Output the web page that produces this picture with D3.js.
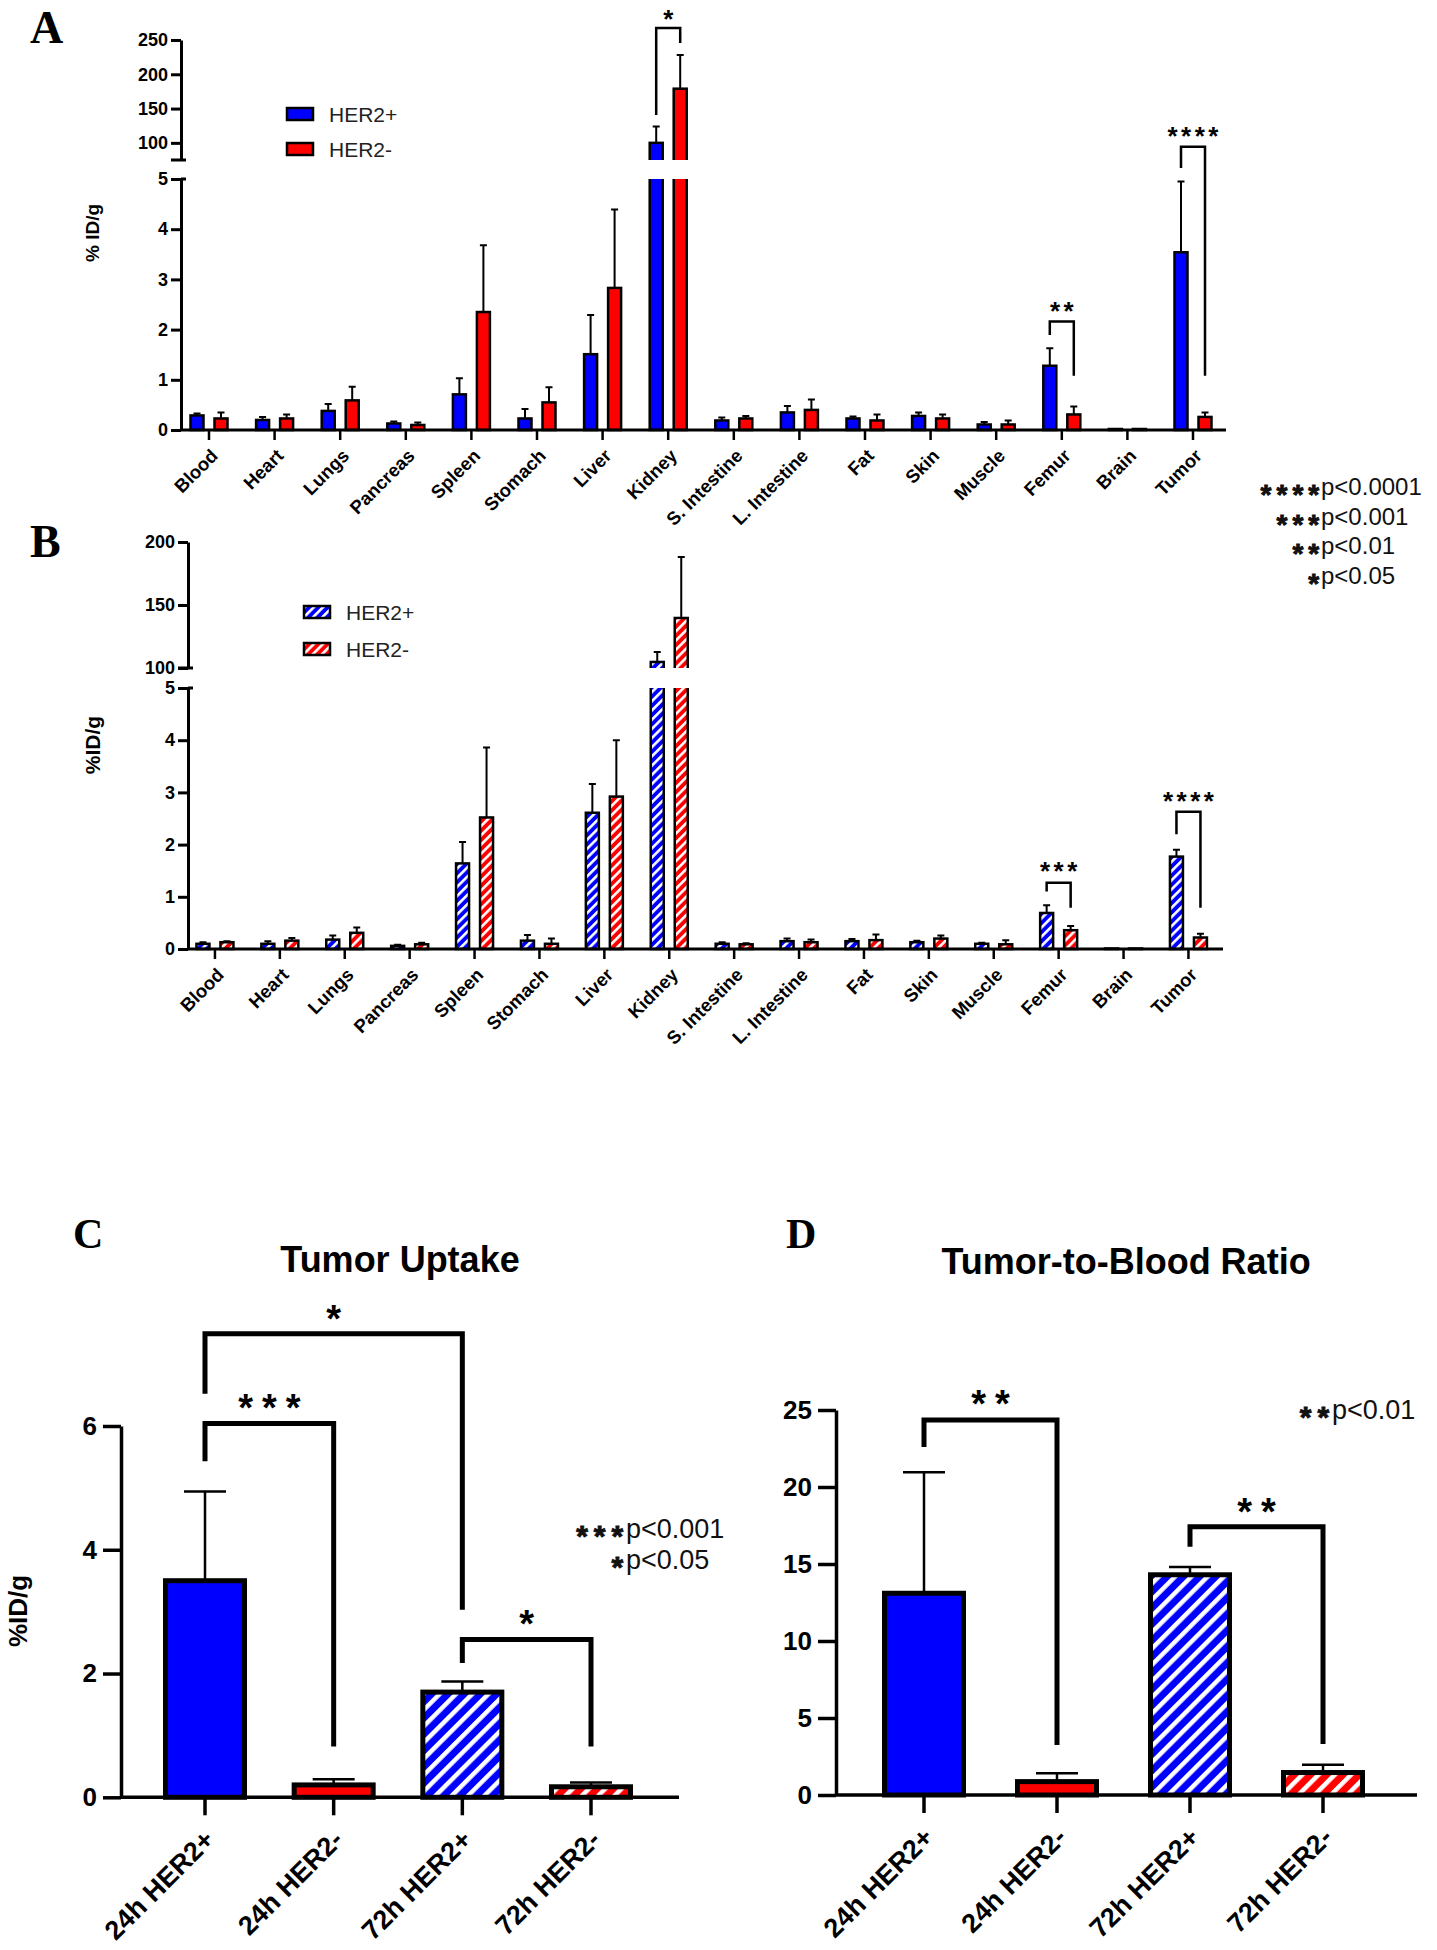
<!DOCTYPE html>
<html><head><meta charset="utf-8">
<script src="https://cdn.jsdelivr.net/npm/d3@7"></script>
<style>body{margin:0;background:#fff}</style>
</head><body>
<script>
// ---------------- DATA ----------------
const organs = ["Blood","Heart","Lungs","Pancreas","Spleen","Stomach","Liver","Kidney","S. Intestine","L. Intestine","Fat","Skin","Muscle","Femur","Brain","Tumor"];
// Panel A (24 h) %ID/g, mean and SD
const aHer2Pos   = [0.29,0.20,0.38,0.13,0.71,0.23,1.51,100,0.19,0.35,0.23,0.28,0.11,1.28,0.02,3.54];
const aHer2PosSd = [0.04,0.06,0.14,0.04,0.32,0.19,0.78,24,0.06,0.13,0.04,0.07,0.05,0.35,0,1.41];
const aHer2Neg   = [0.23,0.23,0.59,0.10,2.35,0.55,2.83,179,0.23,0.40,0.19,0.23,0.11,0.31,0.02,0.26];
const aHer2NegSd = [0.12,0.08,0.27,0.05,1.33,0.30,1.56,49,0.05,0.21,0.12,0.08,0.08,0.16,0,0.09];
// Panel B (72 h)
const bHer2Pos   = [0.10,0.10,0.18,0.06,1.64,0.16,2.61,104.8,0.10,0.15,0.15,0.13,0.10,0.69,0.01,1.77];
const bHer2PosSd = [0.03,0.05,0.08,0.02,0.41,0.11,0.55,7.9,0.03,0.05,0.04,0.03,0.02,0.15,0,0.13];
const bHer2Neg   = [0.13,0.16,0.31,0.09,2.52,0.10,2.92,139.7,0.09,0.13,0.17,0.20,0.09,0.36,0.01,0.22];
const bHer2NegSd = [0.02,0.05,0.10,0.03,1.34,0.10,1.08,48.3,0.02,0.05,0.11,0.06,0.08,0.08,0,0.07];
// Panel C / D
const groups = ["24h HER2+","24h HER2-","72h HER2+","72h HER2-"];
const tumorUptake   = [3.50,0.20,1.70,0.17];
const tumorUptakeSd = [1.44,0.09,0.17,0.07];
const tumorBlood    = [13.1,0.87,14.3,1.46];
const tumorBloodSd  = [7.85,0.54,0.50,0.50];
// tick labels
const lowerTicks = [0,1,2,3,4,5];
const aUpperTicks = [100,150,200,250];
const bUpperTicks = [100,150,200];
const cTicks = [0,2,4,6];
const dTicks = [0,5,10,15,20,25];
// significance annotations (data units)
const aSig = [
  {cat:"Kidney", seg:"U", top:267.5, left:140.8, right:245.6, star:289, label:"*"},
  {cat:"Femur",  seg:"L", top:2.16,  left:1.89,  right:1.08,  star:2.49, label:"**"},
  {cat:"Tumor",  seg:"L", top:5.64,  left:5.22,  right:1.08,  star:5.98, label:"****"}
];
const bSig = [
  {cat:"Femur", seg:"L", top:1.27, left:1.10, right:0.79, star:1.61, label:"***"},
  {cat:"Tumor", seg:"L", top:2.63, left:2.20, right:0.79, star:2.95, label:"****"}
];
const cSig = [
  {from:0,to:1,top:6.04,left:5.43,right:0.82,star:6.44,label:"***"},
  {from:0,to:2,top:7.49,left:6.52,right:3.03,star:7.88,label:"*"},
  {from:2,to:3,top:2.55,left:2.17,right:0.82,star:2.94,label:"*"}
];
const dSig = [
  {from:0,to:1,top:24.35,left:22.6,right:3.25,star:25.97,label:"**"},
  {from:2,to:3,top:17.42,left:16.12,right:3.31,star:18.96,label:"**"}
];
const pLegendAB = [["****","p<0.0001"],["***","p<0.001"],["**","p<0.01"],["*","p<0.05"]];
const pLegendC = [["***","p<0.001"],["*","p<0.05"]];
const pLegendD = [["**","p<0.01"]];

// ---------------- DRAWING ----------------
const W=1437,H=1950;
const BLUE="#0000ff", RED="#ff0000";
const FONT="'Liberation Sans', Arial, Helvetica, sans-serif";
const SERIF="'Liberation Serif', 'Times New Roman', serif";
const svg=d3.select("body").append("svg").attr("width",W).attr("height",H).style("display","block");
svg.append("rect").attr("width",W).attr("height",H).attr("fill","#fff");
const defs=svg.append("defs");
function hatch(id,color,period,white){
  const p=defs.append("pattern").attr("id",id).attr("patternUnits","userSpaceOnUse")
    .attr("width",period).attr("height",period).attr("patternTransform","rotate(45)");
  p.append("rect").attr("width",period).attr("height",period).attr("fill",color);
  p.append("rect").attr("width",white).attr("height",period).attr("fill","#fff");
}
hatch("hbS",BLUE,6.5,2.6); hatch("hrS",RED,6.5,2.6);
hatch("hbL",BLUE,11.5,4.5); hatch("hrL",RED,11.5,4.5);

function starText(g,cx,yc,label,fs,ls){
  g.append("text").attr("x",cx+ls/2).attr("y",yc+0.58*fs).attr("text-anchor","middle")
   .attr("font-family",FONT).attr("font-weight","bold").attr("font-size",fs)
   .attr("letter-spacing",ls).text(label);
}
// significance legend: p-texts start at a common x, stars sit just left of them
function pLegend(g,pX,y0,lines,fsText,fsStar,lh,starCenter,ls){
  lines.forEach((l,i)=>{
    const by=y0+i*lh;
    g.append("text").attr("x",pX).attr("y",by).attr("font-family",FONT).attr("font-size",fsText).attr("fill","#111").text(l[1]);
    const s=g.append("text").attr("y",by+0.58*fsStar-starCenter).attr("font-family",FONT).attr("font-weight","bold")
      .attr("font-size",fsStar).attr("letter-spacing",ls).attr("fill","#111")
      .attr("stroke","#111").attr("stroke-width",0.9).text(l[0]);
    const sw=s.node().getComputedTextLength();
    s.attr("x",pX-sw+Math.min(ls-1.5,3.2));
  });
}
function styleAxis(sel,sw,fs){
  sel.selectAll("path,line").attr("stroke","#000").attr("stroke-width",sw);
  sel.selectAll("text").attr("font-family",FONT).attr("font-weight","bold").attr("font-size",fs).attr("fill","#000");
}

function organPanel(o){
  const g=svg.append("g");
  const x=d3.scaleBand().domain(organs).range(o.xRange);
  const cx=c=>x(c)+x.bandwidth()/2;
  const xs=d3.scalePoint().domain(["pos","neg"]).range([-12,12]);
  const yL=d3.scaleLinear().domain([0,5]).range(o.lowerRange);
  const yU=d3.scaleLinear().domain(o.upperDomain).range(o.upperRange);
  const clipL="clipL"+o.id, clipU="clipU"+o.id;
  defs.append("clipPath").attr("id",clipL).append("rect").attr("x",0).attr("y",o.lowerRange[1]).attr("width",W).attr("height",o.lowerRange[0]-o.lowerRange[1]+6);
  defs.append("clipPath").attr("id",clipU).append("rect").attr("x",0).attr("y",0).attr("width",W).attr("height",o.upperRange[0]);
  const series=[{key:"pos",vals:o.pos,sd:o.posSd,fill:o.fillPos},{key:"neg",vals:o.neg,sd:o.negSd,fill:o.fillNeg}];
  const bw=13;
  series.forEach(s=>{
    const data=organs.map((c,i)=>({c,v:s.vals[i],sd:s.sd[i]}));
    g.append("g").attr("clip-path",`url(#${clipL})`).selectAll("rect").data(data).join("rect")
      .attr("x",d=>cx(d.c)+xs(s.key)-bw/2).attr("width",bw)
      .attr("y",d=>yL(Math.min(d.v,5.6))).attr("height",d=>yL(0)-yL(Math.min(d.v,5.6)))
      .attr("fill",s.fill).attr("stroke","#000").attr("stroke-width",2.5);
    g.append("g").attr("clip-path",`url(#${clipU})`).selectAll("rect").data(data.filter(d=>d.v>o.upperDomain[0])).join("rect")
      .attr("x",d=>cx(d.c)+xs(s.key)-bw/2).attr("width",bw)
      .attr("y",d=>yU(d.v)).attr("height",d=>yU(o.upperDomain[0])+10-yU(d.v))
      .attr("fill",s.fill).attr("stroke","#000").attr("stroke-width",2.5);
    g.append("g").selectAll("path").data(data.filter(d=>d.sd>0)).join("path")
      .attr("d",d=>{const sc=d.v>5?yU:yL; const xx=cx(d.c)+xs(s.key); const t=sc(d.v+d.sd);
        return `M${xx},${sc(d.v)}V${t}M${xx-3.5},${t}H${xx+3.5}`;})
      .attr("fill","none").attr("stroke","#000").attr("stroke-width",2);
  });
  // axes
  const gl=g.append("g").attr("transform",`translate(${o.axisX},0)`)
    .call(d3.axisLeft(yL).tickValues(lowerTicks).tickSize(10).tickSizeOuter(0).tickPadding(3).tickFormat(d3.format("d")));
  styleAxis(gl,3,18);
  const gu=g.append("g").attr("transform",`translate(${o.axisX},0)`)
    .call(d3.axisLeft(yU).tickValues(o.upperTicks).tickSize(10).tickSizeOuter(0).tickPadding(3).tickFormat(d3.format("d")));
  styleAxis(gu,3,18);
  g.append("path").attr("d",`M${o.axisX},${yL(5)}H${o.axisX+5}M${o.axisX-10},${o.upperRange[0]}H${o.axisX+5}`)
    .attr("stroke","#000").attr("stroke-width",3);
  g.append("path").attr("d",`M${o.axisX},${yL(0)}H${o.xEnd}`).attr("stroke","#000").attr("stroke-width",3);
  g.append("g").selectAll("line").data(organs).join("line")
    .attr("x1",cx).attr("x2",cx).attr("y1",yL(0)).attr("y2",yL(0)+10).attr("stroke","#000").attr("stroke-width",2.5);
  g.append("g").selectAll("text").data(organs).join("text")
    .attr("transform",c=>`translate(${cx(c)+10},${yL(0)+27}) rotate(-45)`)
    .attr("text-anchor","end").attr("font-family",FONT).attr("font-weight","bold").attr("font-size",18.5).text(c=>c);
  // significance
  o.sig.forEach(s=>{
    const sc=s.seg==="U"?yU:yL;
    const x1=cx(s.cat)+xs("pos"), x2=cx(s.cat)+xs("neg");
    g.append("path").attr("d",`M${x1},${sc(s.left)}V${sc(s.top)}H${x2}V${sc(s.right)}`)
      .attr("fill","none").attr("stroke","#000").attr("stroke-width",2.5);
    starText(g,(x1+x2)/2,sc(s.star),s.label,26,3.5);
  });
  // y label
  g.append("text").attr("transform",`translate(${o.ylabX},${o.ylabY}) rotate(-90)`).attr("text-anchor","middle")
    .attr("dominant-baseline","central").attr("font-family",FONT).attr("font-weight","bold").attr("font-size",o.ylabFs).text(o.ylab);
  // legend
  [["HER2+",o.fillPos],["HER2-",o.fillNeg]].forEach((l,i)=>{
    const yc=o.legY[i];
    g.append("rect").attr("x",o.legX).attr("y",yc-6).attr("width",26).attr("height",12).attr("fill",l[1]).attr("stroke","#000").attr("stroke-width",2.5);
    g.append("text").attr("x",o.legX+42).attr("y",yc).attr("dominant-baseline","central").attr("font-family",FONT).attr("font-size",21).attr("fill","#222").text(l[0]);
  });
  // panel letter
  g.append("text").attr("x",o.letterX).attr("y",o.letterY).attr("font-family",SERIF).attr("font-weight","bold").attr("font-size",46).text(o.letter);
}

organPanel({id:"A",letter:"A",letterX:30,letterY:43,xRange:[176.2,1225.8],axisX:181,xEnd:1226,
  lowerRange:[430,179],upperDomain:[75,250],upperRange:[160,40],upperTicks:aUpperTicks,
  pos:aHer2Pos,posSd:aHer2PosSd,neg:aHer2Neg,negSd:aHer2NegSd,fillPos:BLUE,fillNeg:RED,sig:aSig,
  ylab:"% ID/g",ylabX:92,ylabY:233,ylabFs:19,legX:287,legY:[114,149]});
organPanel({id:"B",letter:"B",letterX:30,letterY:557,xRange:[182.5,1220.9],axisX:188,xEnd:1223,
  lowerRange:[949,688],upperDomain:[100,200],upperRange:[668,542],upperTicks:bUpperTicks,
  pos:bHer2Pos,posSd:bHer2PosSd,neg:bHer2Neg,negSd:bHer2NegSd,fillPos:"url(#hbS)",fillNeg:"url(#hrS)",sig:bSig,
  ylab:"%ID/g",ylabX:92,ylabY:745,ylabFs:21,legX:304,legY:[612,649]});
pLegend(svg.append("g"),1321,495,pLegendAB,24,28,29.5,7,5);

function summaryPanel(o){
  const g=svg.append("g");
  const x=d3.scalePoint().domain(groups).range(o.xRange);
  const y=d3.scaleLinear().domain(o.yDomain).range(o.yRange);
  const bw=79;
  const data=groups.map((c,i)=>({c,v:o.vals[i],sd:o.sd[i],fill:o.fills[i]}));
  g.append("g").selectAll("path").data(data).join("path")
    .attr("d",d=>`M${x(d.c)},${y(d.v)}V${y(d.v+d.sd)}M${x(d.c)-21},${y(d.v+d.sd)}H${x(d.c)+21}`)
    .attr("fill","none").attr("stroke","#000").attr("stroke-width",2.5);
  g.append("g").selectAll("rect").data(data).join("rect")
    .attr("x",d=>x(d.c)-bw/2).attr("width",bw).attr("y",d=>y(d.v)).attr("height",d=>y(0)-y(d.v))
    .attr("fill",d=>d.fill).attr("stroke","#000").attr("stroke-width",5);
  const ga=g.append("g").attr("transform",`translate(${o.axisX},0)`)
    .call(d3.axisLeft(y).tickValues(o.ticks).tickSize(18).tickSizeOuter(0).tickPadding(6).tickFormat(d3.format("d")));
  styleAxis(ga,3.5,26);
  g.append("path").attr("d",`M${o.axisX},${y(0)}H${o.xEnd}`).attr("stroke","#000").attr("stroke-width",3.5);
  g.append("g").selectAll("line").data(groups).join("line")
    .attr("x1",c=>x(c)).attr("x2",c=>x(c)).attr("y1",y(0)).attr("y2",y(0)+18).attr("stroke","#000").attr("stroke-width",3.5);
  g.append("g").selectAll("text").data(groups).join("text")
    .attr("transform",c=>`translate(${x(c)+11},${y(0)+44}) rotate(-45)`)
    .attr("text-anchor","end").attr("font-family",FONT).attr("font-weight","bold").attr("font-size",27).text(c=>c);
  o.sig.forEach(s=>{
    const x1=x(groups[s.from]), x2=x(groups[s.to]);
    g.append("path").attr("d",`M${x1},${y(s.left)}V${y(s.top)}H${x2}V${y(s.right)}`)
      .attr("fill","none").attr("stroke","#000").attr("stroke-width",5);
    starText(g,(x1+x2)/2,y(s.star),s.label,38,9);
  });
  g.append("text").attr("x",o.titleX).attr("y",o.titleY).attr("text-anchor","middle").attr("font-family",FONT)
    .attr("font-weight","bold").attr("font-size",36).text(o.title);
  g.append("text").attr("x",o.letterX).attr("y",o.letterY).attr("font-family",SERIF).attr("font-weight","bold").attr("font-size",42).text(o.letter);
  if(o.ylab) g.append("text").attr("transform",`translate(${o.ylabX},${o.ylabY}) rotate(-90)`).attr("text-anchor","middle")
    .attr("dominant-baseline","central").attr("font-family",FONT).attr("font-weight","bold").attr("font-size",26).text(o.ylab);
  pLegend(g,o.pX,o.pY,o.pLines,27,30,31,9,6);
}

summaryPanel({letter:"C",letterX:73,letterY:1248,title:"Tumor Uptake",titleX:400,titleY:1272,
  xRange:[205,591],yDomain:[0,6],yRange:[1797.3,1426],ticks:cTicks,axisX:121,xEnd:679,
  vals:tumorUptake,sd:tumorUptakeSd,fills:[BLUE,RED,"url(#hbL)","url(#hrL)"],sig:cSig,
  ylab:"%ID/g",ylabX:18,ylabY:1611,pX:626,pY:1538,pLines:pLegendC});
summaryPanel({letter:"D",letterX:786,letterY:1248,title:"Tumor-to-Blood Ratio",titleX:1126,titleY:1274,
  xRange:[924,1323],yDomain:[0,25],yRange:[1795,1410],ticks:dTicks,axisX:836,xEnd:1417,
  vals:tumorBlood,sd:tumorBloodSd,fills:[BLUE,RED,"url(#hbL)","url(#hrL)"],sig:dSig,
  ylab:null,pX:1332,pY:1419,pLines:pLegendD});
</script>
</body></html>
